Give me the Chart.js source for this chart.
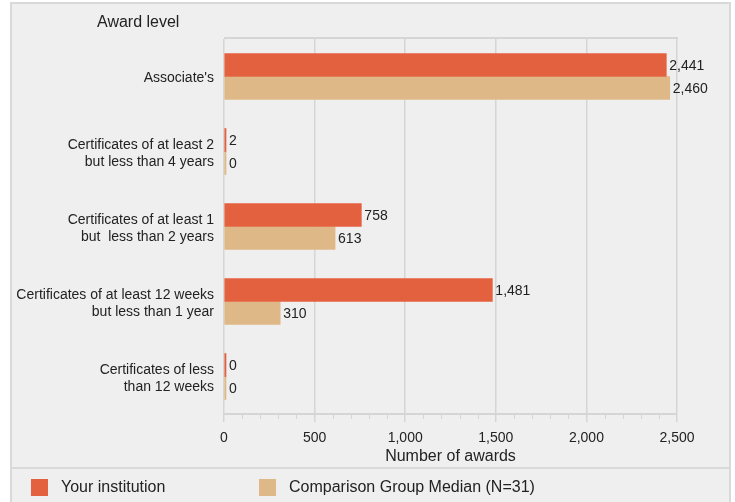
<!DOCTYPE html>
<html>
<head>
<meta charset="utf-8">
<script src="https://cdn.jsdelivr.net/npm/chart.js@4.4.1/dist/chart.umd.min.js"></script>
<style>
  html, body { margin: 0; padding: 0; background: #fff; }
  #awards { display: block; }
</style>
</head>
<body>
<canvas id="awards" width="735" height="502"></canvas>
<script>
// data
const categories = [
  ["Associate's"],
  ["Certificates of at least 2", "but less than 4 years"],
  ["Certificates of at least 1", "but  less than 2 years"],
  ["Certificates of at least 12 weeks", "but less than 1 year"],
  ["Certificates of less", "than 12 weeks"]
];
const yourInstitution = [2441, 2, 758, 1481, 0];
const comparisonMedian = [2460, 0, 613, 310, 0];
const seriesNames = ['Your institution', 'Comparison Group Median (N=31)'];
const xMax = 2500;
const xStep = 500;
const minorStep = 100;

const FONT = '"Liberation Sans", Arial, Helvetica, sans-serif';
const ORANGE = '#e4613f';
const TAN = '#dfb887';
const GRID = '#d5d5d5';
const TEXT = '#222';

const fmt = v => Number(v).toLocaleString('en-US');

// frame, legend, labels and extra ticks
const decorations = {
  id: 'decorations',
  beforeDraw(chart) {
    const ctx = chart.ctx;
    const a = chart.chartArea;
    ctx.save();
    ctx.fillStyle = '#efefef';
    ctx.fillRect(11, 3, 719, 510);
    ctx.strokeStyle = '#d9d9d9';
    ctx.lineWidth = 2;
    ctx.strokeRect(11, 3, 719, 520);
    ctx.beginPath();
    ctx.moveTo(11, 468);
    ctx.lineTo(730, 468);
    ctx.stroke();
    // plot top border
    ctx.strokeStyle = GRID;
    ctx.lineWidth = 2;
    ctx.beginPath();
    ctx.moveTo(a.left, a.top - 1);
    ctx.lineTo(a.right + 1, a.top - 1);
    ctx.stroke();
    ctx.restore();
  },
  afterDraw(chart) {
    const ctx = chart.ctx;
    const a = chart.chartArea;
    const xs = chart.scales.x;
    ctx.save();
    // minor ticks
    ctx.strokeStyle = GRID;
    ctx.lineWidth = 1;
    for (let v = minorStep; v < xMax; v += minorStep) {
      if (v % xStep === 0) continue;
      const px = Math.round(xs.getPixelForValue(v)) + 0.5;
      ctx.beginPath();
      ctx.moveTo(px, a.bottom);
      ctx.lineTo(px, a.bottom + 5);
      ctx.stroke();
    }
    // value labels
    ctx.fillStyle = TEXT;
    ctx.font = '14px ' + FONT;
    ctx.textAlign = 'left';
    ctx.textBaseline = 'middle';
    chart.data.datasets.forEach((ds, i) => {
      chart.getDatasetMeta(i).data.forEach((bar, j) => {
        ctx.fillText(fmt(ds.data[j]), bar.x + 3, bar.y + 1);
      });
    });
    // titles
    ctx.font = '16px ' + FONT;
    ctx.fillText('Award level', 97, 23);
    ctx.textAlign = 'center';
    ctx.fillText('Number of awards', (a.left + a.right) / 2, 457);
    // legend
    ctx.textAlign = 'left';
    const legendX = [31, 259];
    chart.data.datasets.forEach((ds, i) => {
      ctx.fillStyle = ds.backgroundColor;
      ctx.fillRect(legendX[i], 479, 17, 17);
      ctx.fillStyle = TEXT;
      ctx.fillText(ds.label, legendX[i] + 30, 488);
    });
    ctx.restore();
  }
};

new Chart(document.getElementById('awards'), {
  type: 'bar',
  data: {
    labels: categories,
    datasets: [
      { label: seriesNames[0], data: yourInstitution, backgroundColor: ORANGE, barThickness: 23, minBarLength: 2 },
      { label: seriesNames[1], data: comparisonMedian, backgroundColor: TAN, barThickness: 23, minBarLength: 2 }
    ]
  },
  options: {
    indexAxis: 'y',
    responsive: false,
    animation: false,
    layout: { padding: { top: 39, right: 58, left: 0, bottom: 0 } },
    plugins: {
      legend: { display: false },
      tooltip: { enabled: false }
    },
    scales: {
      x: {
        min: 0,
        max: xMax,
        ticks: {
          stepSize: xStep,
          color: TEXT,
          font: { family: FONT, size: 14 },
          padding: 8,
          maxRotation: 0,
          callback: v => fmt(v)
        },
        grid: { color: GRID, lineWidth: 1.5, tickLength: 8, tickColor: GRID },
        border: { color: GRID, width: 2 },
        afterFit: s => { s.height = 88; }
      },
      y: {
        ticks: { color: TEXT, font: { family: FONT, size: 14 }, padding: 10, labelOffset: 2 },
        grid: { display: false, drawTicks: false },
        border: { display: false },
        afterFit: s => { s.width = 224; }
      }
    }
  },
  plugins: [decorations]
});
</script>
</body>
</html>
